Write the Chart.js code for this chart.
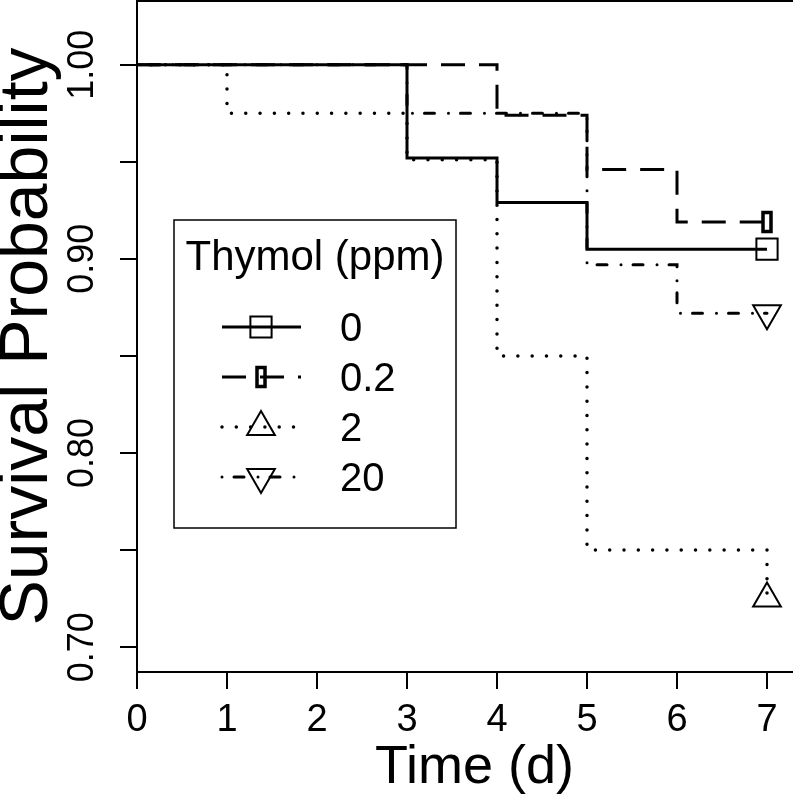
<!DOCTYPE html>
<html>
<head>
<meta charset="utf-8">
<script src="https://cdn.jsdelivr.net/npm/chart.js@4.4.1/dist/chart.umd.min.js"></script>
<style>
  html, body { margin: 0; padding: 0; background: #fff; overflow: hidden; }
  #wrap { width: 793px; height: 801px; overflow: hidden; }
</style>
</head>
<body>
<div id="wrap"><canvas id="survChart" width="816" height="801"></canvas></div>
<script>
// Kaplan-Meier estimates by Thymol concentration
const groups = ["0", "0.2", "2", "20"];

const timesCtrl = [0, 3, 4, 5, 7];
const survCtrl = [1.0, 0.952, 0.929, 0.905, 0.905];

const times02 = [0, 4, 5, 6, 7];
const surv02 = [1.0, 0.974, 0.946, 0.919, 0.919];

const times2 = [0, 1, 3, 4, 5, 7];
const surv2 = [1.0, 0.975, 0.951, 0.850, 0.750, 0.725];

const times20 = [0, 3, 5, 6, 7];
const surv20 = [1.0, 0.975, 0.897, 0.872, 0.872];

const xTickLabels = ["0", "1", "2", "3", "4", "5", "6", "7"];
const yTickLabels = ["0.70", "0.80", "0.90", "1.00"];

const FONT = "'Liberation Sans', Arial, Helvetica, sans-serif";

function toPoints(times, surv) {
  return times.map((t, i) => ({ x: t, y: surv[i] }));
}

// the 0.2 group's end mark looks like a narrow upright box
function narrowBox() {
  const c = document.createElement("canvas");
  c.width = 14;
  c.height = 24;
  const g = c.getContext("2d");
  g.strokeStyle = "#000";
  g.lineWidth = 3.5;
  g.strokeRect(3, 2.5, 8, 19);
  return c;
}
const boxMark = narrowBox();

const lastOnly = (r) => (ctx) => ctx.dataIndex === ctx.dataset.data.length - 1 ? r : 0;

const datasets = [
  {
    label: groups[0],
    data: toPoints(timesCtrl, survCtrl),
    borderWidth: 3,
    borderDash: [],
    borderCapStyle: "butt",
    pointStyle: "rect",
    markRadius: 15,
    pointRotation: 0
  },
  {
    label: groups[1],
    data: toPoints(times02, surv02),
    borderWidth: 3,
    borderDash: [24, 14],
    borderCapStyle: "butt",
    pointStyle: boxMark,
    markRadius: 10,
    pointRotation: 0
  },
  {
    label: groups[2],
    data: toPoints(times2, surv2),
    borderWidth: 3.5,
    borderDash: [0, 14.3],
    borderCapStyle: "round",
    pointStyle: "triangle",
    markRadius: 16,
    pointRotation: 0
  },
  {
    label: groups[3],
    data: toPoints(times20, surv20),
    borderWidth: 3,
    borderDash: [0, 12, 10, 14],
    borderCapStyle: "round",
    pointStyle: "triangle",
    markRadius: 16,
    pointRotation: 180
  }
].map((ds) => Object.assign(ds, {
  stepped: "before",
  borderColor: "#000",
  backgroundColor: "rgba(0,0,0,0)",
  pointBorderColor: "#000",
  pointBackgroundColor: "rgba(0,0,0,0)",
  pointBorderWidth: 2,
  pointRadius: lastOnly(ds.markRadius),
  fill: false
}));

const frame = {
  id: "frame",
  afterDraw(chart) {
    const { ctx, chartArea: a } = chart;
    ctx.save();
    ctx.strokeStyle = "#000";
    ctx.lineWidth = 2;
    ctx.strokeRect(a.left, a.top, a.right - a.left, a.bottom - a.top);
    ctx.restore();
  }
};

const kmLegend = {
  id: "kmLegend",
  afterDraw(chart) {
    const ctx = chart.ctx;
    const box = { left: 174, top: 220, right: 456, bottom: 528 };
    ctx.save();
    ctx.fillStyle = "#fff";
    ctx.fillRect(box.left, box.top, box.right - box.left, box.bottom - box.top);
    ctx.strokeStyle = "#000";
    ctx.lineWidth = 1.5;
    ctx.strokeRect(box.left, box.top, box.right - box.left, box.bottom - box.top);

    ctx.fillStyle = "#000";
    ctx.font = "42px " + FONT;
    ctx.textAlign = "center";
    ctx.textBaseline = "alphabetic";
    ctx.fillText("Thymol (ppm)", (box.left + box.right) / 2, 270);

    chart.data.datasets.forEach((ds, i) => {
      const y = 327 + i * 50;
      ctx.setLineDash(ds.borderDash);
      ctx.lineCap = ds.borderCapStyle;
      ctx.lineWidth = ds.borderWidth;
      ctx.beginPath();
      ctx.moveTo(222, y);
      ctx.lineTo(301, y);
      ctx.stroke();

      ctx.setLineDash([]);
      ctx.lineCap = "butt";
      ctx.fillStyle = "rgba(0,0,0,0)";
      ctx.lineWidth = 2;
      Chart.helpers.drawPoint(ctx, {
        pointStyle: ds.pointStyle,
        radius: ds.markRadius,
        rotation: ds.pointRotation,
        borderWidth: 2
      }, 261, y);

      ctx.fillStyle = "#000";
      ctx.font = "40px " + FONT;
      ctx.textAlign = "left";
      ctx.fillText(ds.label, 340, y + 14);
    });
    ctx.restore();
  }
};

new Chart(document.getElementById("survChart"), {
  type: "line",
  data: { datasets },
  plugins: [frame, kmLegend],
  options: {
    responsive: false,
    animation: false,
    events: [],
    layout: { autoPadding: false, padding: { top: 1, right: 4, bottom: 0, left: 0 } },
    plugins: { legend: { display: false }, tooltip: { enabled: false } },
    scales: {
      x: {
        type: "linear",
        min: 0,
        max: 7.5,
        afterFit(s) {
          s.height = 129;
          s.paddingLeft = 0; s.paddingRight = 0; s.paddingTop = 0; s.paddingBottom = 0;
        },
        ticks: {
          stepSize: 1,
          includeBounds: false,
          autoSkip: false,
          maxRotation: 0,
          padding: 9,
          color: "#000",
          font: { family: FONT, size: 38 },
          callback: (v) => xTickLabels.includes(String(v)) ? String(v) : ""
        },
        grid: { drawOnChartArea: false, color: "#000", lineWidth: 2, tickLength: 17 },
        border: { display: false },
        title: {
          display: true,
          text: "Time (d)",
          color: "#000",
          padding: 0,
          font: { family: FONT, size: 54, lineHeight: 1.2 }
        }
      },
      y: {
        type: "linear",
        min: 0.6872,
        max: 1.0328,
        afterFit(s) {
          s.width = 137;
          s.paddingLeft = 0; s.paddingRight = 0; s.paddingTop = 0; s.paddingBottom = 0;
        },
        ticks: {
          stepSize: 0.05,
          includeBounds: false,
          autoSkip: false,
          minRotation: 90,
          maxRotation: 90,
          crossAlign: "center",
          padding: 2,
          color: "#000",
          font: { family: FONT, size: 36 },
          callback: (v) => {
            const s = Number(v).toFixed(2);
            return yTickLabels.includes(s) ? s : "";
          }
        },
        grid: { drawOnChartArea: false, color: "#000", lineWidth: 2, tickLength: 17 },
        border: { display: false },
        title: {
          display: true,
          text: "Survival Probability",
          color: "#000",
          padding: 0,
          font: { family: FONT, size: 68, lineHeight: 0.82 }
        }
      }
    }
  }
});
</script>
</body>
</html>
